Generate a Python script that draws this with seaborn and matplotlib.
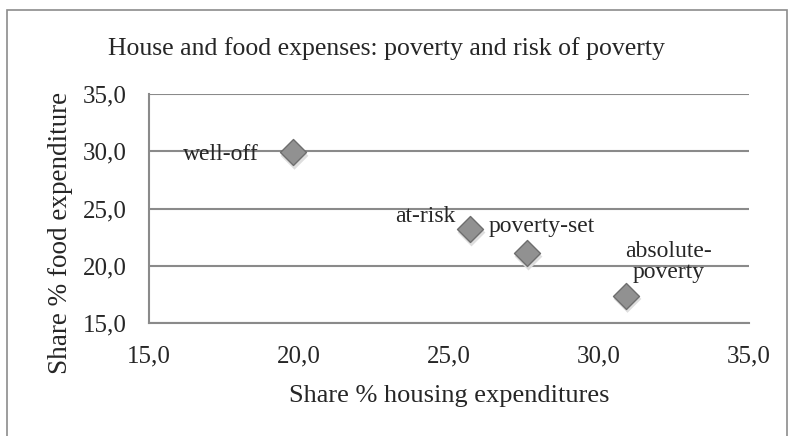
import numpy as np
import pandas as pd
import seaborn as sns
import matplotlib.pyplot as plt
from matplotlib.patches import Rectangle

# data
groups = ["well-off", "at-risk", "poverty-set", "absolute-\npoverty"]
housing_share = [19.8, 25.7, 27.6, 30.9]
food_share = [29.9, 23.2, 21.1, 17.4]
tick_values = [15, 20, 25, 30, 35]

df = pd.DataFrame({"group": groups, "housing": housing_share, "food": food_share})

sns.set_style("white")
plt.rcParams["font.family"] = ["Liberation Serif", "DejaVu Serif"]

fig = plt.figure(figsize=(7.93, 4.36), dpi=100)
ax = fig.add_axes([149 / 793, 1 - 323 / 436, 600 / 793, 229 / 436])

grey = "#8a8a8a"

# soft shadow under the markers
ax.scatter(df["housing"] + 0.05, df["food"] - 0.3, marker="D", s=200,
           color="#dedede", edgecolor="none", zorder=2)
sns.scatterplot(data=df, x="housing", y="food", marker="D", s=175,
                color="#919191", edgecolor="#6e6e6e", linewidth=1.0,
                ax=ax, zorder=3, legend=False)

# point labels: offsets in pixels from each point, text baseline anchored
offsets = {
    "well-off": (-34, -8, "right"),
    "at-risk": (-15, 7, "right"),
    "poverty-set": (-38, 21, "left"),
    "absolute-\npoverty": (43, 18, "center"),
}
for g, x, y in zip(groups, housing_share, food_share):
    dx, dy, ha = offsets[g]
    ax.annotate(g, (x, y), xytext=(dx, dy), textcoords="offset pixels",
                ha=ha, va="baseline", fontsize=17, linespacing=0.95, zorder=4)

ax.set_xlim(15, 35)
ax.set_ylim(15, 35)
ax.set_xticks(tick_values)
ax.set_yticks(tick_values)
labels = [f"{t:.1f}".replace(".", ",") for t in tick_values]
ax.set_xticklabels(labels, fontsize=18)
ax.set_yticklabels(labels, fontsize=18)
ax.tick_params(length=0, pad=16)

ax.yaxis.grid(True, color=grey, linewidth=1.5)
ax.xaxis.grid(False)
ax.set_axisbelow(True)
for side in ["top", "right"]:
    ax.spines[side].set_visible(False)
for side in ["left", "bottom"]:
    ax.spines[side].set_color(grey)
    ax.spines[side].set_linewidth(1.5)

ax.set_xlabel("Share % housing expenditures", fontsize=19)
ax.xaxis.label.set_va("baseline")
ax.xaxis.set_label_coords(0.5, -(402 - 323) / 229)
ax.set_ylabel("Share % food expenditure", fontsize=19.5)
ax.yaxis.label.set_va("baseline")
ax.yaxis.set_label_coords((67 - 149) / 600, (323 - 233) / 229)

fig.text(386 / 793, 1 - 55 / 436, "House and food expenses: poverty and risk of poverty",
         ha="center", va="baseline", fontsize=18.5)

# outer chart frame (bottom edge runs off the image)
fig.add_artist(Rectangle((7 / 793, -0.05), 780 / 793, 1.05 - 10 / 436,
                         transform=fig.transFigure, fill=False,
                         edgecolor="#8c8c8c", linewidth=1.2, clip_on=False))

fig.savefig("out.png", dpi=100)
